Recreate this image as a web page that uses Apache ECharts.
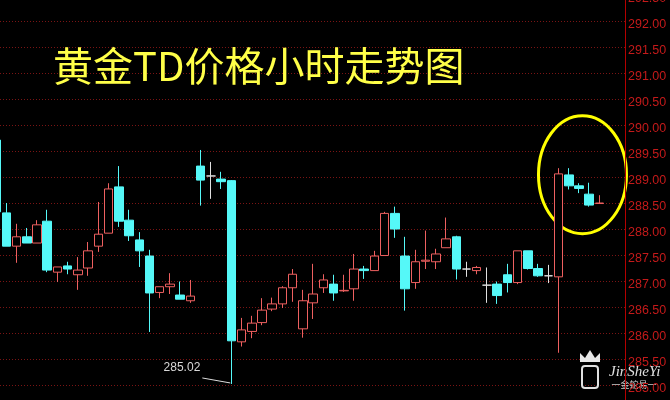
<!DOCTYPE html>
<html><head><meta charset="utf-8">
<script src="https://cdn.jsdelivr.net/npm/echarts@6/dist/echarts.min.js"></script>
<style>html,body{margin:0;padding:0;background:#000;}#c{width:670px;height:400px;}</style>
</head><body><div id="c"></div>
<script>
const titleText = '黄金TD价格小时走势图';
const opens  = [289.71,288.31,287.67,287.85,287.73,288.15,287.17,287.29,287.12,287.25,287.67,287.92,288.81,288.17,287.79,287.48,286.78,286.89,286.73,286.62,289.21,289.02,288.96,288.93,285.83,286.03,286.20,286.46,286.56,286.87,286.08,286.58,286.87,286.94,286.81,286.85,287.23,287.20,287.49,288.30,287.48,286.97,287.38,287.37,287.64,287.85,287.23,287.20,286.92,286.94,287.12,286.97,287.58,287.24,287.10,287.08,289.04,288.83,288.67,288.49];
const closes = [288.33,287.67,287.85,287.73,288.08,287.21,287.27,287.23,287.21,287.58,287.90,288.77,288.15,287.87,287.58,286.77,286.89,286.94,286.65,286.71,288.94,289.02,288.91,285.85,286.06,286.19,286.44,286.56,286.87,287.13,286.62,286.75,287.02,286.77,286.82,287.23,287.20,287.48,288.30,288.00,286.85,287.37,287.40,287.52,287.81,287.23,287.23,287.26,286.92,286.72,286.97,287.58,287.24,287.10,287.10,289.06,288.83,288.78,288.46,288.50];
const lows   = [288.30,287.67,287.35,287.73,287.73,287.17,286.98,287.13,286.83,287.10,287.56,287.92,288.04,287.77,287.27,286.02,286.67,286.75,286.65,286.58,288.45,288.58,288.77,285.02,285.74,285.90,286.15,286.42,286.48,286.60,285.91,286.27,286.77,286.62,286.79,286.62,287.04,287.20,287.49,287.83,286.43,286.85,287.23,287.23,287.64,287.03,287.08,287.13,286.58,286.56,286.78,286.94,287.22,287.08,286.96,285.62,288.76,288.69,288.43,288.49];
const highs  = [289.75,288.50,288.10,288.02,288.17,288.37,287.27,287.37,287.46,287.75,288.52,288.88,289.21,288.37,287.94,287.60,286.89,287.15,286.99,287.02,289.52,289.29,289.10,288.94,286.29,286.33,286.67,286.68,286.90,287.23,286.83,287.33,287.13,287.12,287.12,287.52,287.29,287.58,288.33,288.43,287.85,287.60,287.97,287.62,288.22,287.87,287.37,287.29,287.26,286.99,287.33,287.58,287.58,287.33,287.31,289.17,289.17,288.88,288.89,288.65];
const categories = opens.map((_, i) => 'H' + (i + 1)).concat(['H61', 'H62']);
const yMin = 284.5, yMax = 292.5, yStep = 0.5;

const chart = echarts.init(document.getElementById('c'));
const data = opens.map((o, i) => [o, closes[i], lows[i], highs[i]]);
chart.setOption({
  backgroundColor: '#000',
  animation: false,
  grid: { left: -9, right: 45, top: -5, bottom: -11, containLabel: false, outerBoundsMode: 'none' },
  xAxis: { type: 'category', data: categories, boundaryGap: true,
    axisLine: { show: false }, axisTick: { show: false }, axisLabel: { show: false }, splitLine: { show: false } },
  yAxis: { type: 'value', position: 'right', min: yMin, max: yMax, interval: yStep,
    axisLine: { show: true, lineStyle: { color: '#b40000', width: 1 } },
    axisTick: { show: false },
    axisLabel: { color: '#c41a1a', fontSize: 12.5, fontFamily: 'Liberation Sans, Arial, sans-serif', margin: 3,
      verticalAlign: 'top', lineHeight: 8, showMaxLabel: true, hideOverlap: false, formatter: v => v.toFixed(2) },
    splitLine: { show: true, lineStyle: { color: '#7a1414', type: [1, 2], width: 1 } } },
  series: [{ type: 'candlestick', data: data, barWidth: 9,
    itemStyle: { color: '#000', color0: '#55f8f8', borderColor: '#ee6060', borderColor0: '#55f8f8',
      borderColorDoji: '#e0e0e0', borderWidth: 1 } }]
});

// annotations positioned from data
let minIdx = 0;
lows.forEach((v, i) => { if (v < lows[minIdx]) minIdx = i; });
const pMin = chart.convertToPixel({ xAxisIndex: 0, yAxisIndex: 0 }, [minIdx, lows[minIdx]]);
const pEll = chart.convertToPixel({ xAxisIndex: 0, yAxisIndex: 0 }, [57, 288.9]);
chart.setOption({
  graphic: [
    { type: 'text', left: 53, top: 46, style: { text: titleText, fill: '#ffff48',
      font: '40px "Noto Sans CJK SC", sans-serif' } },
    { type: 'line', shape: { x1: pMin[0] - 1, y1: pMin[1] - 1, x2: pMin[0] - 29, y2: pMin[1] - 6 },
      style: { stroke: '#dcdcdc', lineWidth: 1 } },
    { type: 'text', x: pMin[0] - 31, y: pMin[1] - 16, style: { text: lows[minIdx].toFixed(2), fill: '#d8d8d8',
      font: '12px "Liberation Sans", Arial, sans-serif', textAlign: 'right', textVerticalAlign: 'middle' } },
    { type: 'ellipse', shape: { cx: pEll[0] + 3.5, cy: pEll[1] - 7.5, rx: 44, ry: 59 },
      style: { fill: 'none', stroke: '#ffff00', lineWidth: 3 } },
    { type: 'polygon', shape: { points: [[580,362],[580,353],[585,358],[590,350],[595,358],[600,353],[600,362]] },
      style: { fill: '#e8e8e8' } },
    { type: 'rect', shape: { x: 582, y: 366, width: 16, height: 22, r: 3 },
      style: { fill: 'none', stroke: '#e0e0e0', lineWidth: 2 } },
    { type: 'text', x: 609, y: 372, style: { text: 'JinSheYi', fill: '#e0e0e0',
      font: 'italic 15px "Liberation Serif", serif', textVerticalAlign: 'middle' } },
    { type: 'text', x: 634, y: 385, style: { text: '一金蛇易一', fill: '#d0d0d0',
      font: '9px "Noto Sans CJK SC", sans-serif', textAlign: 'center', textVerticalAlign: 'middle' } }
  ]
});
</script></body></html>
